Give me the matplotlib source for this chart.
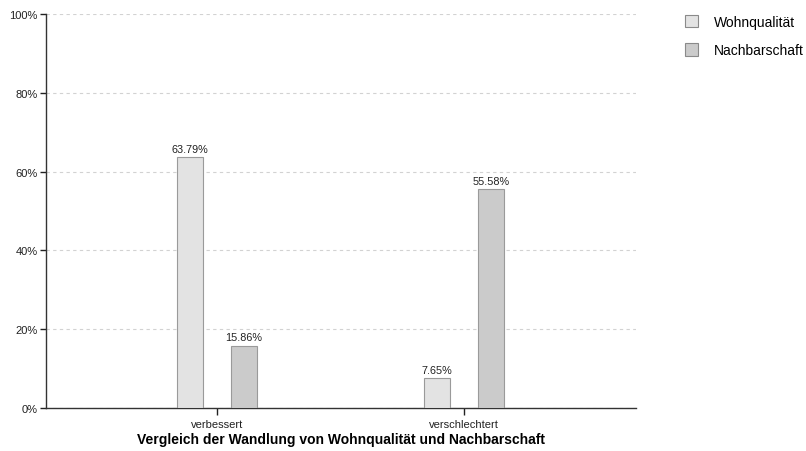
import matplotlib
matplotlib.use("Agg")
import matplotlib.pyplot as plt
from matplotlib.patches import Patch
import numpy as np

# Daten
kategorien = ["verbessert", "verschlechtert"]
wohnqualitaet = [63.79, 7.65]
nachbarschaft = [15.86, 55.58]
serien = ["Wohnqualität", "Nachbarschaft"]
farben = ["#e3e3e3", "#cbcbcb"]

plt.rcParams["font.family"] = ["Liberation Sans", "DejaVu Sans"]

fig = plt.figure(figsize=(8.06, 4.52), dpi=100)
ax = fig.add_axes([46 / 806, 1 - 409 / 452, 590 / 806, 394 / 452])

x = np.arange(len(kategorien))
breite = 0.105
versatz = 0.108

for i, (werte, farbe) in enumerate(zip([wohnqualitaet, nachbarschaft], farben)):
    pos = x + (versatz if i else -versatz)
    balken = ax.bar(pos, werte, breite, color=farbe, edgecolor="#9a9a9a",
                    linewidth=0.8, zorder=3)
    for b, w in zip(balken, werte):
        ax.text(b.get_x() + b.get_width() / 2, w + 0.8, f"{w:.2f}%",
                ha="center", va="bottom", fontsize=7.8, color="#222222")

ax.set_xlim(-0.692, 1.696)
ax.set_ylim(0, 100)
ax.set_yticks(range(0, 101, 20))
ax.set_yticklabels([f"{v}%" for v in range(0, 101, 20)])
ax.set_xticks(x)
ax.set_xticklabels(kategorien)
ax.tick_params(axis="both", labelsize=8, colors="#222222", length=4, width=1, pad=2)
ax.tick_params(axis="x", length=5, pad=3)
ax.yaxis.grid(True, linestyle=(0, (3, 3)), color="#d2d2d2", linewidth=0.8, zorder=0)

for s in ["top", "right"]:
    ax.spines[s].set_visible(False)
for s in ["left", "bottom"]:
    ax.spines[s].set_color("#333333")
    ax.spines[s].set_linewidth(1)

ax.set_xlabel("Vergleich der Wandlung von Wohnqualität und Nachbarschaft",
              fontsize=10, fontweight="bold", labelpad=2)

handles = [Patch(facecolor=f, edgecolor="#8a8a8a", linewidth=0.8) for f in farben]
fig.legend(handles, serien, loc="upper left", bbox_to_anchor=(672 / 806, 1 - 3 / 452),
           frameon=False, fontsize=10, handlelength=1.0, handleheight=1.0,
           labelspacing=1.05, handletextpad=1.1)

fig.savefig("out.png", dpi=100)
